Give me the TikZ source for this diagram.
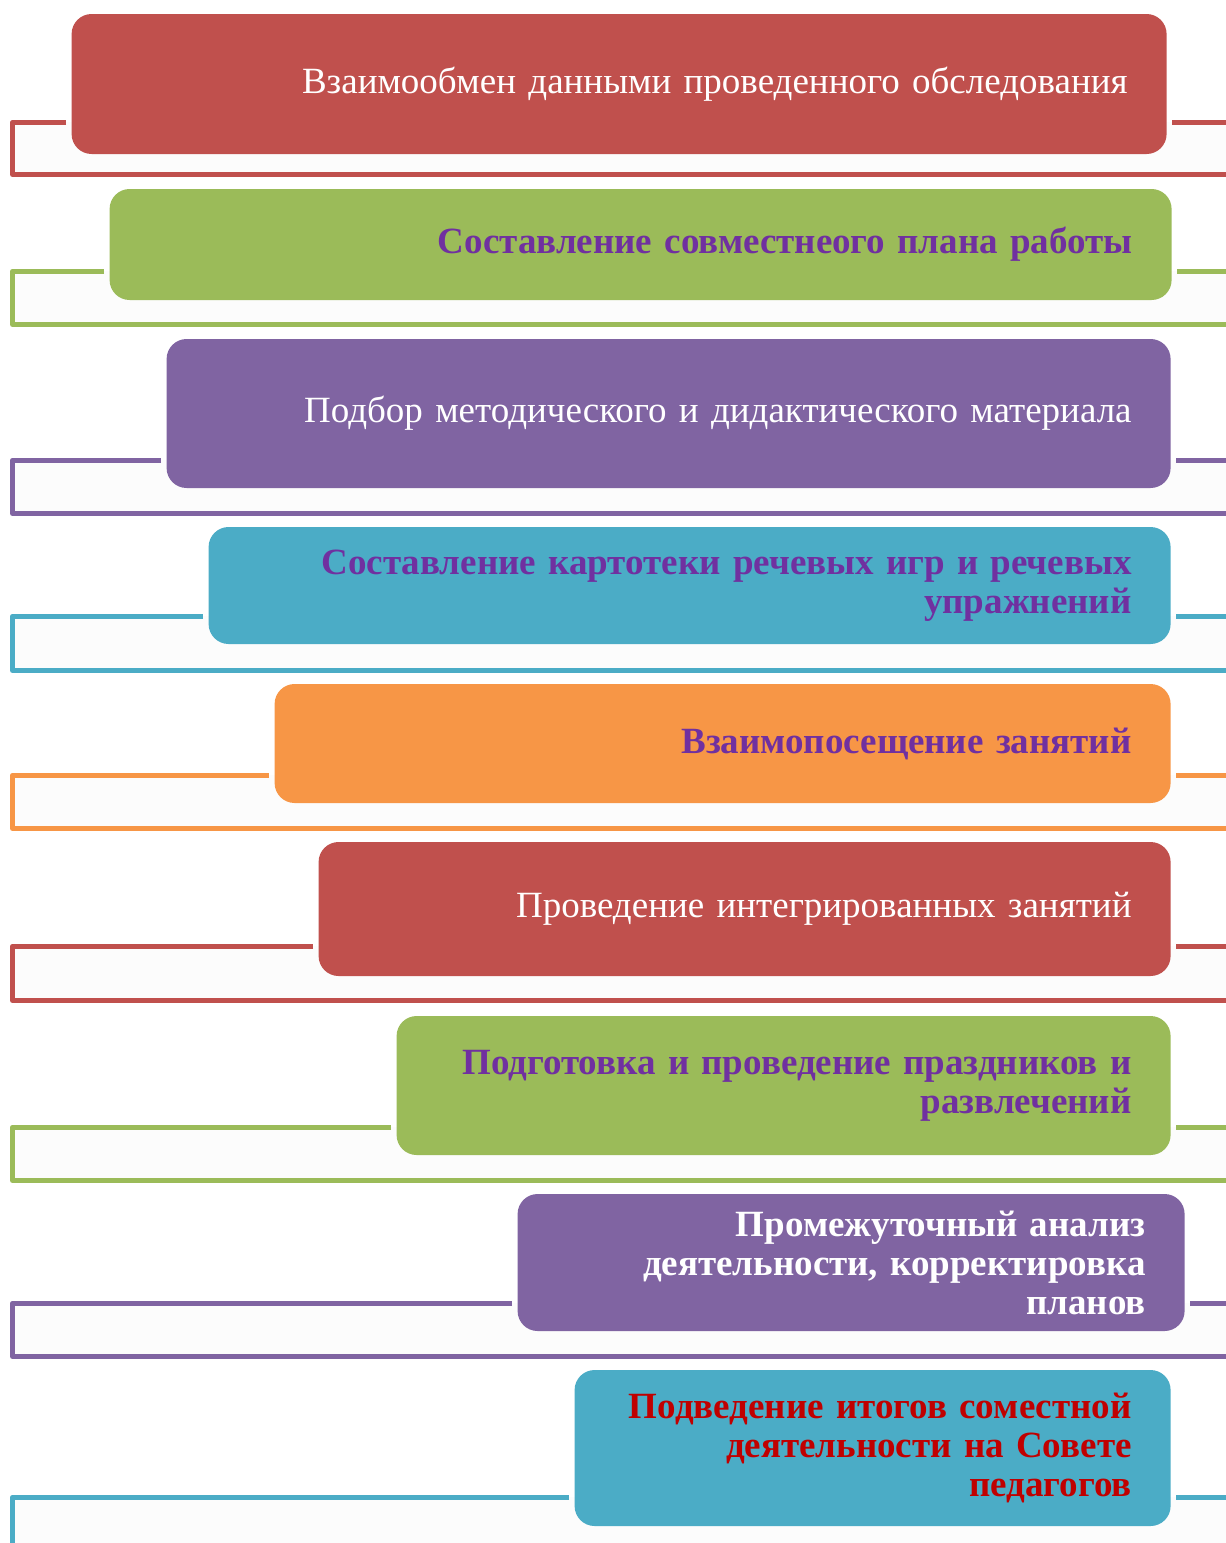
\documentclass[tikz,border=0pt]{standalone}
\usepackage{fontspec}
\setmainfont{Liberation Serif}
\usetikzlibrary{backgrounds}
\definecolor{cRed}{HTML}{C0504D}
\definecolor{cGreen}{HTML}{9BBB59}
\definecolor{cPurple}{HTML}{8064A2}
\definecolor{cCyan}{HTML}{4BACC6}
\definecolor{cOrange}{HTML}{F79646}
\definecolor{txtPurple}{HTML}{7030A0}
\definecolor{txtRed}{HTML}{C00000}
\tikzset{
	stage/.style={rectangle, rounded corners=10pt, anchor=east, inner xsep=19.5pt, inner ysep=0pt, align=right, text=white, font=\fontsize{18.5}{19.5}\selectfont},
	plain/.style={text=white},
	strong/.style={font=\fontsize{18.5}{19.5}\selectfont\bfseries},
	bracket/.style={line width=2.6pt, line join=round, shorten <=2.5pt},
	band/.style={fill=black!1}
}
\begin{document}
\begin{tikzpicture}[x=0.5pt, y=-0.5pt]
			\useasboundingbox (0,0) rectangle (1226,1543);
			\coordinate (L) at (12.5,0);
			\coordinate (R) at (1226,0);
			
			\node (s1) [stage, plain, fill=cRed, text width=508.5pt, minimum height=70pt] at (1167,84) {Взаимообмен данными проведенного обследования};
			\node (s2) [stage, strong, text=txtPurple, fill=cGreen, text width=492pt, minimum height=55.5pt] at (1172,244.5) {Составление совместнеого плана работы};
			\node (s3) [stage, plain, fill=cPurple, text width=463pt, minimum height=74.5pt] at (1171,413.5) {Подбор методического и дидактического материала};
			\node (s4) [stage, strong, text=txtPurple, fill=cCyan, text width=442pt, minimum height=58.5pt] at (1171,585.5) {Составление картотеки речевых игр и речевых\\ упражнений};
			\node (s5) [stage, strong, text=txtPurple, fill=cOrange, text width=409pt, minimum height=59.5pt] at (1171,743.5) {Взаимопосещение занятий};
			\node (s6) [stage, plain, fill=cRed, text width=387pt, minimum height=67pt] at (1171,909) {Проведение интегрированных занятий};
			\node (s7) [stage, strong, text=txtPurple, fill=cGreen, text width=348pt, minimum height=69.5pt] at (1171,1085.5) {Подготовка и проведение праздников и\\ развлечений};
			\node (s8) [stage, strong, text=white, fill=cPurple, text width=294.5pt, minimum height=68.5pt] at (1185,1262.5) {Промежуточный анализ\\ деятельности, корректировка\\ планов};
			\node (s9) [stage, strong, text=txtRed, fill=cCyan, text width=259pt, minimum height=78pt] at (1171,1448) {Подведение итогов соместной\\ деятельности на Совете\\ педагогов};
			
			% stub heights and bottom lines of the brackets
			\coordinate (a1) at ([yshift=16pt]s1.south); \coordinate (c1) at ([yshift=-10pt]s1.south);
			\coordinate (a2) at ([yshift=14.5pt]s2.south); \coordinate (c2) at ([yshift=-12pt]s2.south);
			\coordinate (a3) at ([yshift=14pt]s3.south); \coordinate (c3) at ([yshift=-12.5pt]s3.south);
			\coordinate (a4) at ([yshift=14pt]s4.south); \coordinate (c4) at ([yshift=-13pt]s4.south);
			\coordinate (a5) at ([yshift=14pt]s5.south); \coordinate (c5) at ([yshift=-12.5pt]s5.south);
			\coordinate (a6) at ([yshift=15pt]s6.south); \coordinate (c6) at ([yshift=-12pt]s6.south);
			\coordinate (a7) at ([yshift=14pt]s7.south); \coordinate (c7) at ([yshift=-12.5pt]s7.south);
			\coordinate (a8) at ([yshift=14pt]s8.south); \coordinate (c8) at ([yshift=-12.5pt]s8.south);
			\coordinate (a9) at ([yshift=14.5pt]s9.south); \coordinate (c9) at ([yshift=-12pt]s9.south);
			
			\begin{scope}[on background layer]
				\fill[band] (L |- a1) rectangle (c1 -| R);
				\fill[band] (L |- a2) rectangle (c2 -| R);
				\fill[band] (L |- a3) rectangle (c3 -| R);
				\fill[band] (L |- a4) rectangle (c4 -| R);
				\fill[band] (L |- a5) rectangle (c5 -| R);
				\fill[band] (L |- a6) rectangle (c6 -| R);
				\fill[band] (L |- a7) rectangle (c7 -| R);
				\fill[band] (L |- a8) rectangle (c8 -| R);
				\fill[band] (L |- a9) rectangle (c9 -| R);
			\end{scope}
			
			\begin{scope}[bracket]
				\draw[cRed] (s1.west |- a1) -- (L |- a1) |- (c1 -| R);
				\draw[cRed] (s1.east |- a1) -- (R |- a1);
				\draw[cGreen] (s2.west |- a2) -- (L |- a2) |- (c2 -| R);
				\draw[cGreen] (s2.east |- a2) -- (R |- a2);
				\draw[cPurple] (s3.west |- a3) -- (L |- a3) |- (c3 -| R);
				\draw[cPurple] (s3.east |- a3) -- (R |- a3);
				\draw[cCyan] (s4.west |- a4) -- (L |- a4) |- (c4 -| R);
				\draw[cCyan] (s4.east |- a4) -- (R |- a4);
				\draw[cOrange] (s5.west |- a5) -- (L |- a5) |- (c5 -| R);
				\draw[cOrange] (s5.east |- a5) -- (R |- a5);
				\draw[cRed] (s6.west |- a6) -- (L |- a6) |- (c6 -| R);
				\draw[cRed] (s6.east |- a6) -- (R |- a6);
				\draw[cGreen] (s7.west |- a7) -- (L |- a7) |- (c7 -| R);
				\draw[cGreen] (s7.east |- a7) -- (R |- a7);
				\draw[cPurple] (s8.west |- a8) -- (L |- a8) |- (c8 -| R);
				\draw[cPurple] (s8.east |- a8) -- (R |- a8);
				\draw[cCyan] (s9.west |- a9) -- (L |- a9) |- (c9 -| R);
				\draw[cCyan] (s9.east |- a9) -- (R |- a9);
			\end{scope}
		\end{tikzpicture}
\end{document}
